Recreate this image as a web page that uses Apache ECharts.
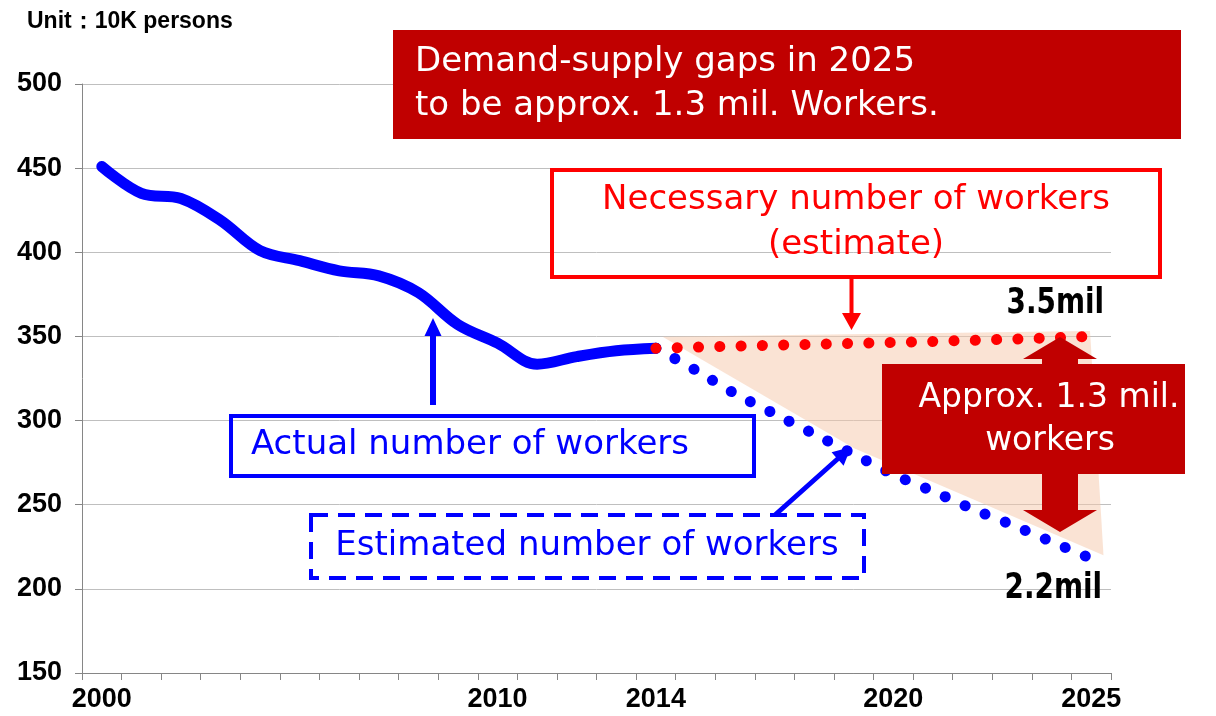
<!DOCTYPE html>
<html><head><meta charset="utf-8">
<script src="https://cdn.jsdelivr.net/npm/echarts@6/dist/echarts.min.js"></script>
<style>html,body{margin:0;padding:0;background:#fff}#chart{width:1216px;height:716px}</style>
</head><body><div id="chart"></div>
<script>
// ---- data ----
const years = ['2000','2001','2002','2003','2004','2005','2006','2007','2008','2009','2010','2011','2012',
  '2013','2014','2015','2016','2017','2018','2019','2020','2021','2022','2023','2024','2025'];
const shownYearLabels = ['2000','2010','2014','2020','2025'];
const actualWorkers = [451, 435, 432, 419, 401, 395, 389, 386, 376, 357, 346, 333.5, 338, 341.5, 343,
  null, null, null, null, null, null, null, null, null, null, null];
const estimatedWorkers = [null, null, null, null, null, null, null, null, null, null, null, null, null, null,
  343, 330, 316, 304, 292, 280, 268, 258, 247.5, 238, 228, 218];
const necessaryWorkers = [null, null, null, null, null, null, null, null, null, null, null, null, null, null,
  343, 343.6, 344.2, 344.8, 345.3, 345.9, 346.4, 347.0, 347.7, 348.4, 349.1, 350];
// gap highlight polygon, in [category index, value]
const gapShade = [[14.17, 349.8], [24.97, 353.2], [25.31, 220], [19.01, 283.6]];
const yMin = 150, yMax = 500, yStep = 50;
const unitText = 'Unit：10K persons';

// ---- helpers ----
function arrowPoly(x1, y1, x2, y2, sw, hl, hw) {
  const dx = x2 - x1, dy = y2 - y1, L = Math.hypot(dx, dy);
  const ux = dx / L, uy = dy / L, nx = -uy, ny = ux;
  const bx = x2 - ux * hl, by = y2 - uy * hl;
  return [
    [x1 + nx * sw / 2, y1 + ny * sw / 2], [bx + nx * sw / 2, by + ny * sw / 2], [bx + nx * hw / 2, by + ny * hw / 2],
    [x2, y2],
    [bx - nx * hw / 2, by - ny * hw / 2], [bx - nx * sw / 2, by - ny * sw / 2], [x1 - nx * sw / 2, y1 - ny * sw / 2]
  ];
}
const TXT = '"DejaVu Sans", sans-serif';
const BOLD = '"Liberation Sans", Arial, sans-serif';
const NARROW = '"DejaVu Sans Condensed", "Liberation Sans Narrow", sans-serif';
function txt(text, x, y, fill, align, size, family, weight, sx) {
  return { type: 'text', z: 100, silent: true, x, y, scaleX: sx || 1,
    style: { text, x: 0, y: 0, fill, align: align || 'center', verticalAlign: 'middle',
      fontSize: size || 34, fontFamily: family || TXT, fontWeight: weight || 'normal' } };
}

const chart = echarts.init(document.getElementById('chart'), null, { renderer: 'canvas' });
const axisColor = '#868686';
const option = {
  animation: false,
  backgroundColor: '#ffffff',
  grid: { left: 82, right: 105, top: 84, bottom: 43, containLabel: false },
  xAxis: {
    type: 'category', data: years, boundaryGap: true,
    axisLine: { show: true, lineStyle: { color: axisColor, width: 1 } },
    axisTick: { show: true, interval: 0, length: 7, lineStyle: { color: axisColor } },
    axisLabel: { interval: 0, margin: 13, color: '#000', fontSize: 27, fontWeight: 'bold', fontFamily: BOLD,
      formatter: v => shownYearLabels.includes(v) ? v : '' },
    splitLine: { show: false }
  },
  yAxis: {
    type: 'value', min: yMin, max: yMax, interval: yStep,
    axisLine: { show: true, lineStyle: { color: axisColor, width: 1 } },
    axisTick: { show: true, length: 7, lineStyle: { color: axisColor } },
    axisLabel: { margin: 20, color: '#000', fontSize: 27, fontWeight: 'bold', fontFamily: BOLD },
    splitLine: { show: true, lineStyle: { color: '#BFBFBF', width: 1 } }
  },
  series: [
    {
      type: 'custom', z: 1, silent: true, data: [[0, yMin]],
      renderItem: (params, api) => {
        const bw = api.size([1, 0])[0];
        const pts = gapShade.map(([ix, v]) => {
          const f = Math.floor(ix);
          const p = api.coord([f, v]);
          return [p[0] + (ix - f) * bw, p[1]];
        });
        return { type: 'polygon', shape: { points: pts }, style: { fill: 'rgba(246,200,170,0.5)' } };
      }
    },
    {
      name: 'Actual number of workers', type: 'line', data: actualWorkers, z: 3,
      smooth: 0.35, symbol: 'none', connectNulls: false,
      lineStyle: { color: '#0000FF', width: 11, cap: 'round', join: 'round' }
    },
    {
      name: 'Estimated number of workers', type: 'line', data: estimatedWorkers, z: 2,
      smooth: 0.3, symbol: 'none',
      lineStyle: { color: '#0000FF', width: 11, type: [0.1, 21.6], cap: 'round' }
    },
    {
      name: 'Necessary number of workers', type: 'line', data: necessaryWorkers, z: 4,
      symbol: 'none',
      lineStyle: { color: '#FF0000', width: 11, type: [0.1, 21.2], cap: 'round' }
    }
  ],
  graphic: [
    txt(unitText, 27, 22, '#000', 'left', 23, BOLD, 'bold'),
    // top banner
    { type: 'rect', z: 90, silent: true, shape: { x: 393, y: 30, width: 788, height: 109 }, style: { fill: '#C00000' } },
    txt('Demand-supply gaps in 2025', 415, 62, '#fff', 'left'),
    txt('to be approx. 1.3 mil. Workers.', 415, 106, '#fff', 'left'),
    // necessary box
    { type: 'rect', z: 90, silent: true, shape: { x: 552, y: 170, width: 608, height: 107 },
      style: { fill: 'none', stroke: '#FF0000', lineWidth: 4 } },
    txt('Necessary number of workers', 856, 200, '#FF0000'),
    txt('(estimate)', 856, 245, '#FF0000'),
    { type: 'polygon', z: 90, silent: true, shape: { points: arrowPoly(851.5, 279, 851.5, 330, 4, 17, 19) }, style: { fill: '#FF0000' } },
    // actual box
    { type: 'rect', z: 90, silent: true, shape: { x: 231, y: 416, width: 523, height: 60 },
      style: { fill: 'none', stroke: '#0000FF', lineWidth: 4 } },
    txt('Actual number of workers', 470, 445, '#0000FF'),
    { type: 'polygon', z: 90, silent: true, shape: { points: arrowPoly(433, 405, 433, 318, 6, 18, 17) }, style: { fill: '#0000FF' } },
    // estimated box
    { type: 'rect', z: 90, silent: true, shape: { x: 311, y: 515, width: 553, height: 63 },
      style: { fill: 'none', stroke: '#0000FF', lineWidth: 4, lineDash: [17, 10] } },
    txt('Estimated number of workers', 587, 546, '#0000FF'),
    { type: 'polygon', z: 90, silent: true, shape: { points: arrowPoly(775, 515, 851, 447, 5, 18, 18) }, style: { fill: '#0000FF' } },
    // gap double arrow + box
    { type: 'polygon', z: 89, silent: true, shape: { points: [[1060, 337], [1097, 359], [1078, 359], [1078, 510], [1097, 510],
      [1060, 532], [1023, 510], [1042, 510], [1042, 359], [1023, 359]] }, style: { fill: '#C00000' } },
    { type: 'rect', z: 90, silent: true, shape: { x: 882, y: 364, width: 303, height: 110 }, style: { fill: '#C00000' } },
    txt('Approx. 1.3 mil.', 1049, 398, '#fff', 'center', 33),
    txt('workers', 1050, 441, '#fff', 'center', 33),
    // end labels
    txt('3.5mil', 1104, 304, '#000', 'right', 36, NARROW, 'bold', 0.86),
    txt('2.2mil', 1102, 589, '#000', 'right', 36, NARROW, 'bold', 0.86)
  ]
};
chart.setOption(option);
</script>
</body></html>
